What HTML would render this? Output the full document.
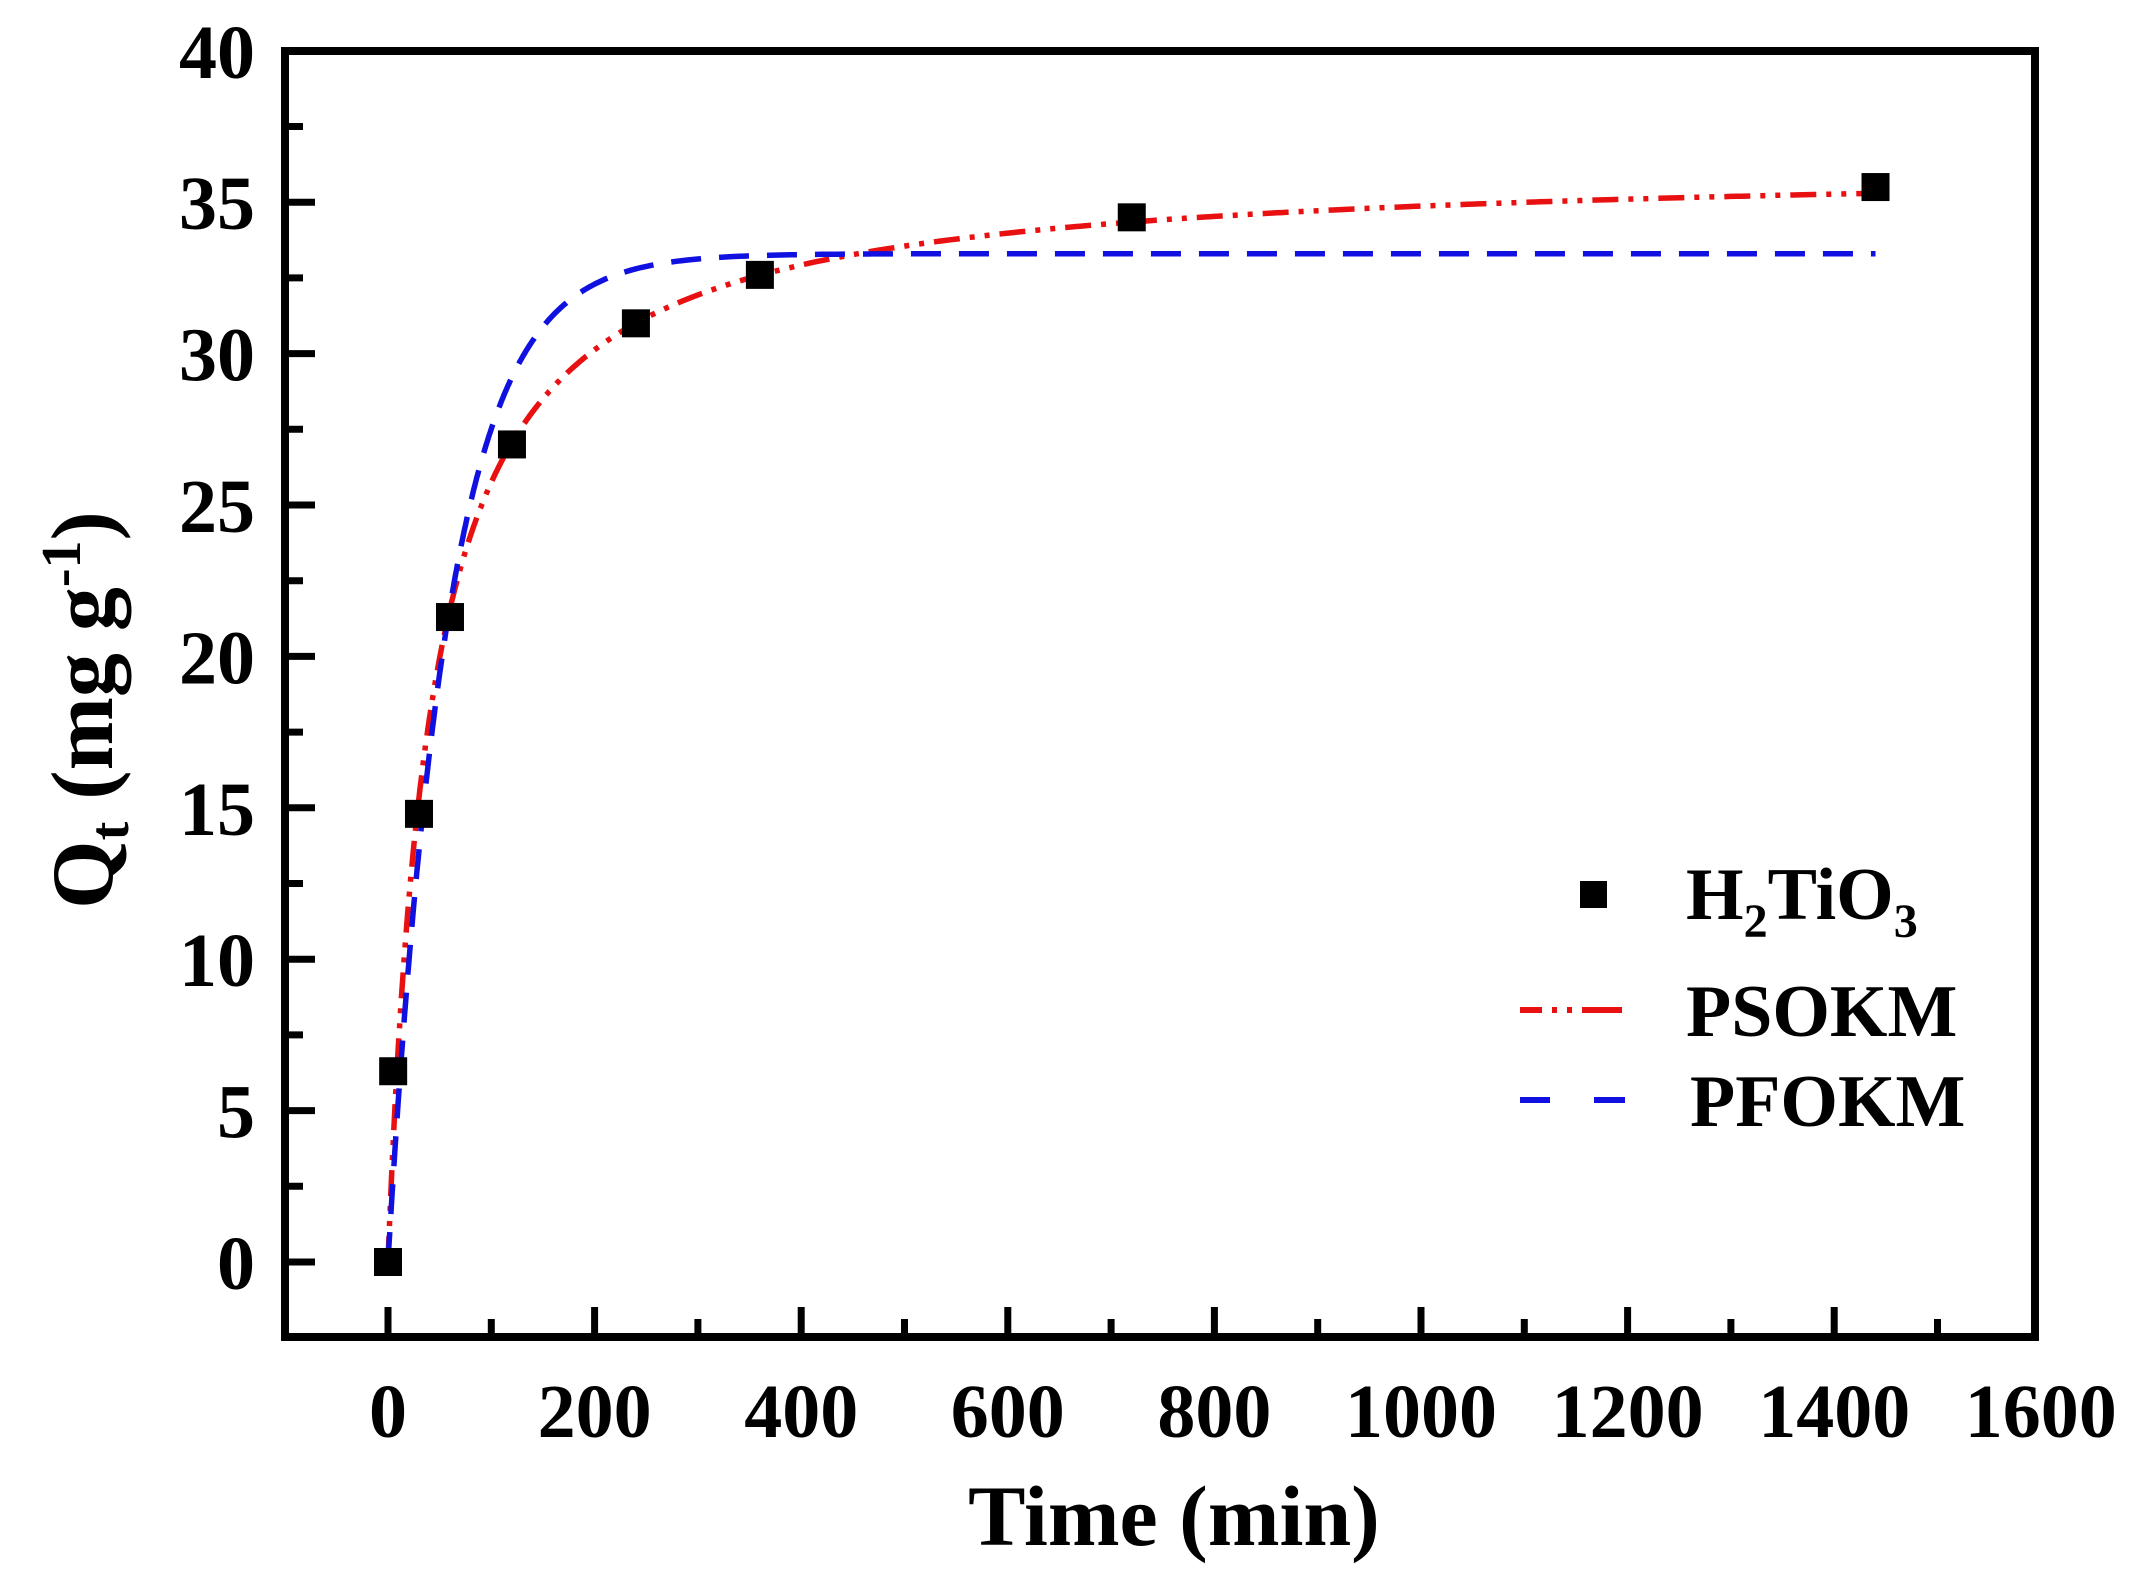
<!DOCTYPE html>
<html><head><meta charset="utf-8"><style>
html,body{margin:0;padding:0;background:#fff;}
svg{display:block;font-family:"Liberation Serif",serif;font-weight:bold;}
</style></head><body>
<svg id="s" width="2133" height="1569" viewBox="0 0 2133 1569" xmlns="http://www.w3.org/2000/svg">
<rect width="2133" height="1569" fill="#fff"/>
<g id="ticks" stroke="#000" stroke-width="7"></g>
<path id="pso" fill="none" stroke="#e81010" stroke-width="5.5" stroke-dasharray="26,10,5,10,5,10"/>
<path id="pfo" fill="none" stroke="#1010e0" stroke-width="5.5" stroke-dasharray="30,18"/>
<g id="pts" fill="#000"></g>
<rect x="285" y="51" width="1750" height="1286" fill="none" stroke="#000" stroke-width="8"/>
<g id="lbl" font-size="76" fill="#000"></g>
<text x="1174" y="1545" font-size="86" text-anchor="middle">Time (min)</text>
<text transform="translate(112,710) rotate(-90)" font-size="88" text-anchor="middle">Q<tspan font-size="56" dy="16">t</tspan><tspan dy="-16"> (mg g</tspan><tspan font-size="56" dy="-32">-1</tspan><tspan dy="32">)</tspan></text>
<rect x="1580" y="881" width="27" height="27" fill="#000"/>
<text x="1686" y="919" font-size="74">H<tspan font-size="48" dy="18">2</tspan><tspan dy="-18">TiO</tspan><tspan font-size="48" dy="18">3</tspan></text>
<line x1="1520" y1="1010" x2="1627" y2="1010" stroke="#e81010" stroke-width="6" stroke-dasharray="22,10,5,10,5,10,40"/>
<text x="1686" y="1036" font-size="74">PSOKM</text>
<line x1="1520" y1="1100" x2="1625" y2="1100" stroke="#1010e0" stroke-width="6" stroke-dasharray="30,44,31"/>
<text x="1690" y="1126" font-size="74">PFOKM</text>
</svg>
<script>
var X=function(t){return 388+t*1.033;},Y=function(q){return 1262-q*30.28;};
var ns="http://www.w3.org/2000/svg";
function el(p,n,a,txt){var e=document.createElementNS(ns,n);for(var k in a)e.setAttribute(k,a[k]);if(txt!=null)e.textContent=txt;document.getElementById(p).appendChild(e);}
for(var v=0;v<=40;v+=2.5){var y=Y(v),maj=(v%5==0);el("ticks","line",{x1:285,y1:y,x2:285+(maj?30:18),y2:y});
 if(maj)el("lbl","text",{x:255,y:y+27,"text-anchor":"end"},String(v));}
for(var t=0;t<=1500;t+=100){var x=X(t),maj=(t%200==0);el("ticks","line",{x1:x,y1:1337,x2:x,y2:1337-(maj?30:18)});}
for(var t=0;t<=1600;t+=200){el("lbl","text",{x:X(t),y:1437,"text-anchor":"middle"},String(t));}
var d1="",d2="";
for(var i=0;i<=1440;i+=(i<200?1:5)){var qe=36.3,k=0.0244/36.3;var q=qe*qe*k*i/(1+qe*k*i);d1+=(i?"L":"M")+X(i).toFixed(1)+","+Y(q).toFixed(1);
 var q2=33.3*(1-Math.exp(-0.0175*i));d2+=(i?"L":"M")+X(i).toFixed(1)+","+Y(q2).toFixed(1);}
document.getElementById("pso").setAttribute("d",d1);document.getElementById("pfo").setAttribute("d",d2);
[[0,0],[5,6.3],[30,14.8],[60,21.3],[120,27],[240,31],[360,32.6],[720,34.5],[1440,35.5]].forEach(function(p){el("pts","rect",{x:X(p[0])-14,y:Y(p[1])-14,width:28,height:28});});
</script>
</body></html>
